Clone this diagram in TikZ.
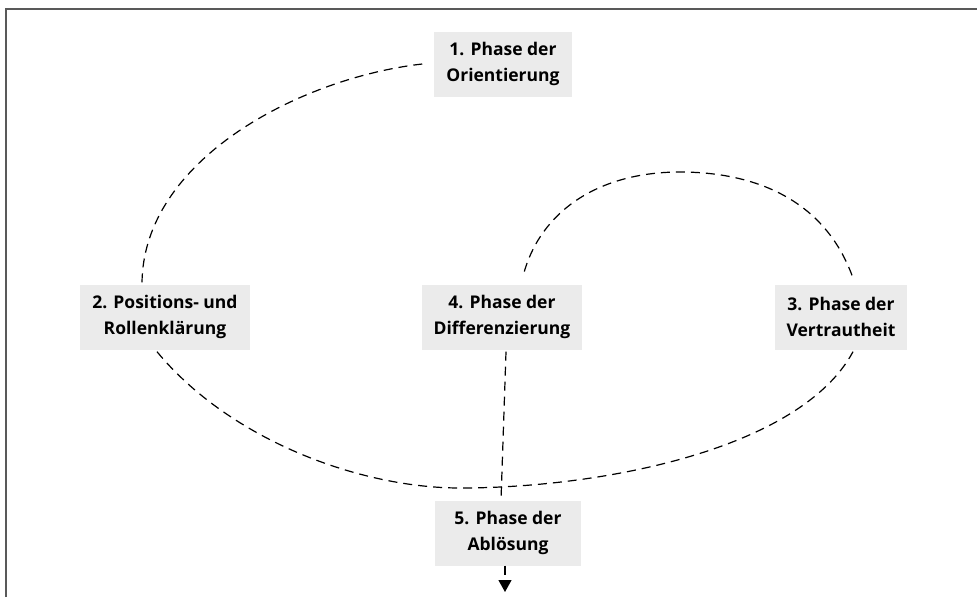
\documentclass[tikz,border=0pt]{standalone}
\usepackage{fontspec}
\setmainfont{Open Sans}
\usetikzlibrary{arrows.meta}

\begin{document}
\begin{tikzpicture}[x=1pt, y={(0pt,-1pt)},
  phase/.style={fill={rgb,255:red,235;green,235;blue,235}, align=center,
                font=\fontsize{17.5}{26}\selectfont\bfseries,
                minimum height=65pt, inner xsep=12pt},
  conn/.style={line width=1.2pt, dash pattern=on 9pt off 6pt},
  arr/.style={conn, -{Triangle[width=13pt, length=12pt]}}]
\useasboundingbox (0,0) rectangle (977,597);
\draw[line width=1.5pt, gray!70!black] (6,597) -- (6,9) -- (977,9);
\node[phase] (p1) at (503,64) {1. Phase der\\Orientierung};
\node[phase] (p2) at (165,317) {2. Positions- und\\Rollenklärung};
\node[phase] (p4) at (502,317) {4. Phase der\\Differenzierung};
\node[phase] (p3) at (841,317) {3. Phase der\\Vertrautheit};
\node[phase, minimum width=146pt] (p5) at (508,533) {5. Phase der\\Ablösung};
\coordinate (end) at (505,592);
\draw[conn] ([xshift=-12pt]p1.west) .. controls (300,78) and (142,160) .. ([xshift=-23pt]p2.north);
\draw[conn] ([xshift=-8pt, yshift=-2pt]p2.south) .. controls (230,440) and (360,488) .. (460,488)
  .. controls (600,488) and (800,450) .. ([xshift=12pt, yshift=-2pt]p3.south);
\draw[conn] ([xshift=11pt, yshift=9pt]p3.north) .. controls (820,190) and (740,172) .. (680,172)
  .. controls (600,172) and (540,210) .. ([xshift=21pt, yshift=8pt]p4.north);
\draw[conn] ([xshift=4pt, yshift=-2pt]p4.south) -- ([xshift=-7pt]p5.north);
\draw[arr] ([xshift=-3pt]p5.south) -- (end);
\end{tikzpicture}
\end{document}
